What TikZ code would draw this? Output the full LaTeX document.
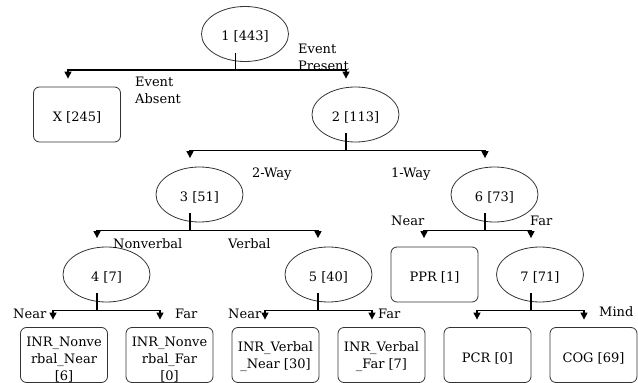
\documentclass[tikz,border=0pt]{standalone}
\usepackage{fontspec}
\setmainfont{DejaVu Serif}
\usetikzlibrary{shapes.geometric,arrows.meta,calc}
\begin{document}
\begin{tikzpicture}[x=1pt,y=-1pt,
  every node/.style={font=\fontsize{13}{17}\selectfont},
  oval/.style={ellipse, draw=black!80, line width=0.8pt, minimum width=87pt, minimum height=55pt, inner sep=0pt},
  leaf/.style={rectangle, rounded corners=6pt, draw=black!80, line width=0.8pt, minimum width=87pt, minimum height=55pt, inner sep=0pt},
  tx/.style={inner sep=0pt, align=center},
  lbl/.style={inner sep=0pt, anchor=west, align=left},
  stem/.style={line width=1.3pt},
  branch/.style={line width=1.3pt, -{Triangle[length=7pt,width=7pt]}},
]
\useasboundingbox (0,0) rectangle (638,383);

% decision nodes and leaves
\node[oval] (n1) at (245,34) {};
\node[leaf] (x)  at (77,114.5) {};
\node[oval] (n2) at (355.5,114.5) {};
\node[oval] (n3) at (199.5,194.5) {};
\node[oval] (n6) at (494.5,194.5) {};
\node[oval] (n4) at (106.5,274.5) {};
\node[oval] (n5) at (328.5,274.5) {};
\node[leaf] (ppr) at (434.5,274.5) {};
\node[oval] (n7) at (540,274.5) {};
\node[leaf] (inn) at (64,355) {};
\node[leaf] (inf) at (169.5,355) {};
\node[leaf] (ivn) at (275.5,355) {};
\node[leaf] (ivf) at (381.5,355) {};
\node[leaf] (pcr) at (487.5,355) {};
\node[leaf] (cog) at (593.5,355) {};

% node texts
\node[tx] (t1) at ($(n1)+(0,2)$) {1 [443]};
\node[tx] (tx) at ($(x)+(0,3)$) {X [245]};
\node[tx] (t2) at ($(n2)+(0,2.5)$) {2 [113]};
\node[tx] (t3) at ($(n3)+(0,2.5)$) {3 [51]};
\node[tx] (t6) at ($(n6)+(0,2.5)$) {6 [73]};
\node[tx] (t4) at ($(n4)+(0,3)$) {4 [7]};
\node[tx] (t5) at ($(n5)+(0,3)$) {5 [40]};
\node[tx] (tppr) at ($(ppr)+(0,3)$) {PPR [1]};
\node[tx] (t7) at ($(n7)+(0,3)$) {7 [71]};
\node[tx] (tinn) at ($(inn)+(0,5)$) {INR\_Nonve\\rbal\_Near\\{[6]}};
\node[tx] (tinf) at ($(inf)+(0,5)$) {INR\_Nonve\\rbal\_Far\\{[0]}};
\node[tx] (tivn) at ($(ivn)+(0,2)$) {INR\_Verbal\\\_Near [30]};
\node[tx] (tivf) at ($(ivf)+(0,2)$) {INR\_Verbal\\\_Far [7]};
\node[tx] (tpcr) at ($(pcr)+(0,3)$) {PCR [0]};
\node[tx] (tcog) at ($(cog)+(0,3)$) {COG [69]};

% connectors: stem out of the parent, then one arrow per child
\coordinate (j1) at ($(n1.south)+(-9.5,8)$);
\draw[stem] ($(n1.south)+(-9.5,-9)$) -- (j1);
\draw[branch] (j1) -| ($(x.north)+(-9,-8)$);
\draw[branch] (j1) -| ($(n2.north)+(-9.5,-8)$);

\coordinate (j2) at ($(n2.south)+(-9.5,8)$);
\draw[stem] ($(n2.south)+(-9.5,-9)$) -- (j2);
\draw[branch] (j2) -| ($(n3.north)+(-9.5,-8.5)$);
\draw[branch] (j2) -| ($(n6.north)+(-9.5,-8.5)$);

\coordinate (j3) at ($(n3.south)+(-9.5,8)$);
\draw[stem] ($(n3.south)+(-9.5,-9)$) -- (j3);
\draw[branch] (j3) -| ($(n4.north)+(-9.5,-8.5)$);
\draw[branch] (j3) -| ($(n5.north)+(-10.5,-8.5)$);

\coordinate (j6) at ($(n6.south)+(-9.5,8)$);
\draw[stem] ($(n6.south)+(-9.5,-9)$) -- (j6);
\draw[branch] (j6) -| ($(ppr.north)+(-10.5,-8.5)$);
\draw[branch] (j6) -| ($(n7.north)+(-9,-8.5)$);

\coordinate (j4) at ($(n4.south)+(-9.5,8)$);
\draw[stem] ($(n4.south)+(-9.5,-9)$) -- (j4);
\draw[branch] (j4) -| ($(inn.north)+(-11,-7.5)$);
\draw[branch] (j4) -| ($(inf.north)+(-9.5,-7.5)$);

\coordinate (j5) at ($(n5.south)+(-10.5,8)$);
\draw[stem] ($(n5.south)+(-10.5,-9)$) -- (j5);
\draw[branch] (j5) -| ($(ivn.north)+(-10.5,-7.5)$);
\draw[branch] (j5) -| ($(ivf.north)+(-9.5,-7.5)$);

\coordinate (j7) at ($(n7.south)+(-9,8)$);
\draw[stem] ($(n7.south)+(-9,-9)$) -- (j7);
\draw[branch] (j7) -| ($(pcr.north)+(-10.5,-7.5)$);
\draw[branch] (j7) -| ($(cog.north)+(-9.5,-7.5)$);

% branch labels
\node[lbl] (lp)  at (298,57.5) {Event\\Present};
\node[lbl] (la)  at (135,90.5) {Event\\Absent};
\node[lbl] (l2w) at (252,174) {2-Way};
\node[lbl] (l1w) at (391,174) {1-Way};
\node[lbl] (lnv) at (113,244) {Nonverbal};
\node[lbl] (lv)  at (228,244) {Verbal};
\node[lbl] (ln6) at (391,221) {Near};
\node[lbl] (lf6) at (530,221) {Far};
\node[lbl] (ln4) at (13,314) {Near};
\node[lbl] (lf4) at (175,314) {Far};
\node[lbl] (ln5) at (228,314) {Near};
\node[lbl] (lf5) at (378,314) {Far};
\node[lbl] (lm)  at (599,312) {Mind};
\end{tikzpicture}
\end{document}
